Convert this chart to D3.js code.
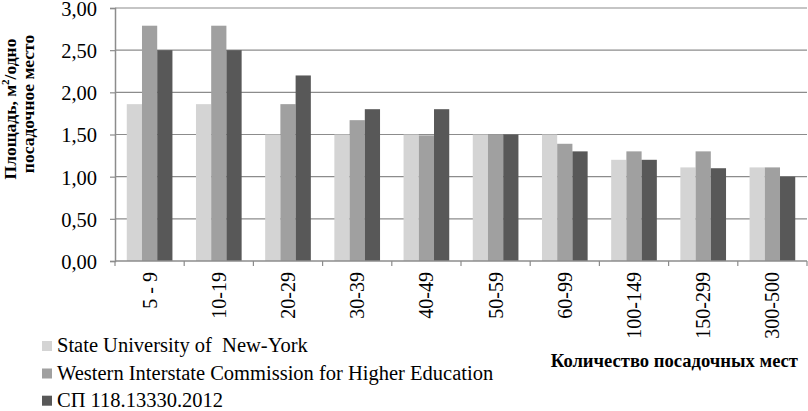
<!DOCTYPE html>
<html><head><meta charset="utf-8">
<script src="https://cdn.jsdelivr.net/npm/d3@7"></script>
<style>body{margin:0;background:#fff}svg{display:block}text{font-family:"Liberation Serif","Times New Roman",serif;fill:#000}</style>
</head><body><svg id="c" width="808" height="411"></svg>
<script>
const categories = ["5 - 9","10-19","20-29","30-39","40-49","50-59","60-99","100-149","150-299","300-500"];
const seriesNames = ["State University of  New-York","Western Interstate Commission for Higher Education","СП 118.13330.2012"];
const suny = [1.86,1.86,1.50,1.50,1.50,1.50,1.50,1.20,1.11,1.11];
const wiche = [2.79,2.79,1.86,1.67,1.49,1.50,1.39,1.30,1.30,1.11];
const sp = [2.50,2.50,2.20,1.80,1.80,1.50,1.30,1.20,1.10,1.00];
const yTicks = [0,0.5,1,1.5,2,2.5,3];
const colors = ["#d4d4d4","#a0a0a0","#585858"];
const series = [suny, wiche, sp];

const svg = d3.select("#c");
const L=115, R=807, T=8, B=261;
const x0 = d3.scaleBand().domain(categories).range([L,R]).paddingInner(0.34).paddingOuter(0.17);
const x1 = d3.scaleBand().domain([0,1,2]).range([0,x0.bandwidth()]);
const y = d3.scaleLinear().domain([0,3]).range([B,T]);
const fmt = d => d3.format(".2f")(d).replace(".",",");

// gridlines
svg.append("g").selectAll("line").data(yTicks.filter(d=>d>0)).join("line")
  .attr("x1",L).attr("x2",R).attr("y1",d=>y(d)).attr("y2",d=>y(d))
  .attr("stroke","#8c8c8c").attr("stroke-width",1.2);

// bars
const g = svg.append("g");
categories.forEach((c,i)=>{
  series.forEach((s,j)=>{
    g.append("rect").attr("x",x0(c)+x1(j)).attr("width",x1.bandwidth())
      .attr("y",y(s[i])).attr("height",B-y(s[i])).attr("fill",colors[j]);
  });
});

// y axis
const ya = svg.append("g").attr("transform",`translate(${L},0)`)
  .call(d3.axisLeft(y).tickValues(yTicks).tickFormat(fmt).tickSize(5).tickPadding(13));
ya.select(".domain").attr("stroke","#8c8c8c").attr("stroke-width",1.5);
ya.selectAll(".tick line").attr("stroke","#8c8c8c").attr("stroke-width",1.2);
ya.selectAll("text").style("font-size","20.5px").style("font-family","Liberation Serif").attr("dy","0.36em");

// x axis
const xa = svg.append("g").attr("transform",`translate(0,${B})`);
xa.append("line").attr("x1",L).attr("x2",R).attr("y1",0).attr("y2",0).attr("stroke","#8c8c8c").attr("stroke-width",1.5);
const bounds = categories.map(c=>x0(c)-x0.step()*0.17).concat([R]);
xa.selectAll("line.t").data(bounds).join("line").attr("class","t")
  .attr("x1",d=>d).attr("x2",d=>d).attr("y1",0).attr("y2",5).attr("stroke","#8c8c8c").attr("stroke-width",1.2);
xa.selectAll("text").data(categories).join("text")
  .attr("transform",d=>`translate(${x0(d)+x0.bandwidth()/2+7},11) rotate(-90)`)
  .attr("text-anchor","end").style("font-size","20px").text(d=>d);

// y title
const yt = svg.append("text").attr("transform","translate(16,109) rotate(-90)")
  .attr("text-anchor","middle").style("font-size","17.5px").style("font-weight","bold");
yt.append("tspan").text("Площадь, м");
yt.append("tspan").attr("dy","-7").style("font-size","11px").text("2");
yt.append("tspan").attr("dy","7").text("/одно");
svg.append("text").attr("transform","translate(34,104) rotate(-90)")
  .attr("text-anchor","middle").style("font-size","17.5px").style("font-weight","bold").text("посадочное место");

// x title
svg.append("text").attr("x",798).attr("y",367).attr("text-anchor","end")
  .style("font-size","18.6px").style("font-weight","bold").text("Количество посадочных мест");

// legend
const lg = svg.append("g");
const baselines = [352, 379.5, 406.7];
seriesNames.forEach((n,j)=>{
  const yy = baselines[j];
  lg.append("rect").attr("x",42).attr("y",yy-11).attr("width",10).attr("height",10).attr("fill",colors[j]);
  lg.append("text").attr("x",57).attr("y",yy).style("font-size","20.5px").attr("xml:space","preserve").text(n);
});
</script></body></html>
